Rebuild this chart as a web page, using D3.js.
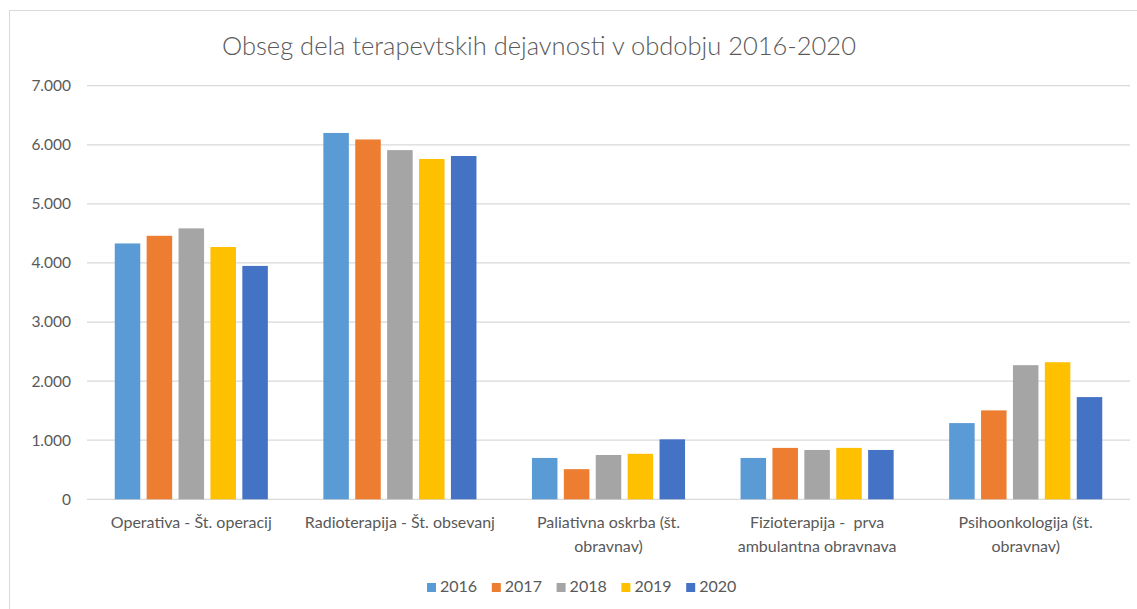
<!DOCTYPE html>
<html>
<head>
<meta charset="utf-8">
<script src="https://cdn.jsdelivr.net/npm/d3@7"></script>
<style>
  body { margin: 0; background: #fff; }
  svg { display: block; font-family: Lato, 'Open Sans', sans-serif; }
  text { white-space: pre; }
</style>
</head>
<body>
<svg id="chart" width="1137" height="609"></svg>
<script>
const categories = [
  ['Operativa - Št. operacij'],
  ['Radioterapija - Št. obsevanj'],
  ['Paliativna oskrba (št.', 'obravnav)'],
  ['Fizioterapija -  prva', 'ambulantna obravnava'],
  ['Psihoonkologija (št.', 'obravnav)']
]
const years = ['2016', '2017', '2018', '2019', '2020']
const v2016 = [4330, 6200, 700, 700, 1290]
const v2017 = [4460, 6090, 510, 870, 1505]
const v2018 = [4585, 5910, 750, 835, 2270]
const v2019 = [4270, 5760, 770, 870, 2320]
const v2020 = [3950, 5810, 1015, 835, 1730]
const yTicks = [0, 1000, 2000, 3000, 4000, 5000, 6000, 7000]
const colors = ['#5B9BD5', '#ED7D31', '#A5A5A5', '#FFC000', '#4472C4']

const series = [v2016, v2017, v2018, v2019, v2020]
const catKeys = categories.map(c => c.join(' '))

const svg = d3.select('#chart')
const textColor = '#595959'
const fmt = d3.formatLocale({ decimal: ',', thousands: '.', grouping: [3], currency: ['', ''] }).format(',d')

// okvir grafa
svg.append('rect')
  .attr('x', 9.5).attr('y', 10.5)
  .attr('width', 1140).attr('height', 620)
  .attr('fill', 'none').attr('stroke', '#d9d9d9')

const x0 = d3.scaleBand().domain(catKeys).range([87, 1130])
const x1 = d3.scaleBand().domain(years)
  .range([0, x0.bandwidth()])
  .paddingInner(0.2).paddingOuter(0.87)
const y = d3.scaleLinear().domain([0, 7000]).range([499.3, 85.7])

// mreža
svg.append('g')
  .selectAll('line')
  .data(yTicks)
  .enter()
  .append('line')
  .attr('x1', 87).attr('x2', 1130)
  .attr('y1', d => y(d)).attr('y2', d => y(d))
  .attr('stroke', '#d9d9d9').attr('stroke-width', 1.3)

// y os
svg.append('g')
  .selectAll('text')
  .data(yTicks)
  .enter()
  .append('text')
  .attr('x', 71)
  .attr('y', d => y(d))
  .attr('dy', '0.35em')
  .attr('text-anchor', 'end')
  .attr('font-size', '15.5px')
  .attr('fill', textColor)
  .text(d => fmt(d))

// stolpci
const groups = svg.append('g')
  .selectAll('g')
  .data(catKeys)
  .enter()
  .append('g')
  .attr('transform', d => 'translate(' + x0(d) + ',0)')

groups.selectAll('rect')
  .data((d, i) => years.map((yr, j) => ({ year: yr, value: series[j][i], color: colors[j] })))
  .enter()
  .append('rect')
  .attr('x', d => x1(d.year))
  .attr('width', x1.bandwidth())
  .attr('y', d => y(d.value))
  .attr('height', d => y(0) - y(d.value))
  .attr('fill', d => d.color)

// oznake kategorij
const labels = svg.append('g')
  .selectAll('text')
  .data(categories)
  .enter()
  .append('text')
  .attr('text-anchor', 'middle')
  .attr('font-size', '16px')
  .attr('fill', textColor)
  .attr('x', (d, i) => x0(catKeys[i]) + x0.bandwidth() / 2)
  .attr('y', 528)
labels.selectAll('tspan')
  .data(d => d)
  .enter()
  .append('tspan')
  .attr('x', function () { return this.parentNode.getAttribute('x') })
  .attr('dy', (d, i) => i === 0 ? 0 : 24)
  .text(d => d)

// naslov
svg.append('text')
  .attr('x', 539)
  .attr('y', 55)
  .attr('text-anchor', 'middle')
  .attr('font-size', '25.5px')
  .attr('font-weight', 300)
  .attr('fill', textColor)
  .text('Obseg dela terapevtskih dejavnosti v obdobju 2016-2020')

// legenda
const legend = svg.append('g')
  .selectAll('g')
  .data(years)
  .enter()
  .append('g')
  .attr('transform', (d, i) => 'translate(' + (427 + i * 64.8) + ',583)')
legend.append('rect')
  .attr('width', 9).attr('height', 9)
  .attr('fill', (d, i) => colors[i])
legend.append('text')
  .attr('x', 13).attr('y', 9)
  .attr('font-size', '16px')
  .attr('fill', textColor)
  .text(d => d)
</script>
</body>
</html>
